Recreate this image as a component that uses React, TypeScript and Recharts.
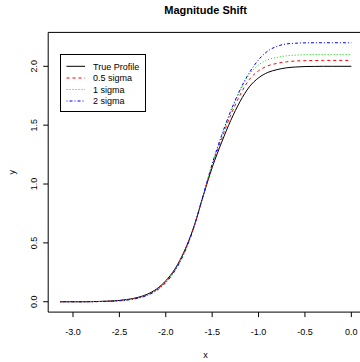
import {
	LineChart,
	Line,
	XAxis,
	YAxis,
	Legend,
	ReferenceArea,
	Customized,
} from "recharts";

// x positions (radians, -pi .. 0)
const xs = [
	-3.14, -3.0, -2.9, -2.8, -2.7, -2.6, -2.5, -2.4, -2.3, -2.2, -2.1, -2.0, -1.9,
	-1.8, -1.7, -1.6, -1.5, -1.4, -1.3, -1.2, -1.1, -1.0, -0.9, -0.8, -0.7, -0.6,
	-0.5, -0.4, -0.3, -0.2, -0.1, 0.0,
];

const trueProfile = [
	0, 0, 0, 0.001, 0.003, 0.006, 0.011, 0.021, 0.037, 0.064, 0.108, 0.178, 0.28,
	0.43, 0.63, 0.89, 1.14, 1.35, 1.54, 1.7, 1.825, 1.902, 1.948, 1.972, 1.987,
	1.994, 1.998, 1.999, 2.0, 2.0, 2.0, 2.0,
];
const halfSigma = [
	0, 0, 0, 0.001, 0.002, 0.005, 0.01, 0.019, 0.034, 0.06, 0.102, 0.171, 0.273,
	0.424, 0.627, 0.893, 1.155, 1.38, 1.585, 1.755, 1.887, 1.962, 2.004, 2.025,
	2.038, 2.045, 2.048, 2.049, 2.05, 2.05, 2.05, 2.05,
];
const oneSigma = [
	0, 0, 0, 0.001, 0.002, 0.005, 0.009, 0.018, 0.032, 0.057, 0.099, 0.167, 0.27,
	0.42, 0.626, 0.895, 1.165, 1.4, 1.61, 1.79, 1.93, 2.012, 2.056, 2.076, 2.089,
	2.095, 2.098, 2.1, 2.1, 2.1, 2.1, 2.1,
];
const twoSigma = [
	0, 0, 0, 0, 0.002, 0.004, 0.008, 0.016, 0.03, 0.054, 0.095, 0.163, 0.265,
	0.415, 0.625, 0.895, 1.17, 1.41, 1.62, 1.8, 1.945, 2.055, 2.13, 2.17, 2.19,
	2.196, 2.199, 2.2, 2.2, 2.2, 2.2, 2.2,
];

const seriesKeys = ["truth", "s05", "s1", "s2"];
const seriesNames = ["True Profile", "0.5 sigma", "1 sigma", "2 sigma"];
const seriesColors = ["#000000", "#ff0000", "#00dd00", "#0000ff"];
const seriesDashes = ["", "3 3", "1 2", "1 2 3 2"];

const xTicks = [-3.0, -2.5, -2.0, -1.5, -1.0, -0.5, 0.0];
const yTicks = [0.0, 0.5, 1.0, 1.5, 2.0];

const data = xs.map((x, i) => ({
	x,
	truth: trueProfile[i],
	s05: halfSigma[i],
	s1: oneSigma[i],
	s2: twoSigma[i],
}));

const X_MIN = -3.2673;
const X_MAX = 0.1257;
const Y_MIN = -0.088;
const Y_MAX = 2.288;

const FONT = "'Liberation Sans', Arial, sans-serif";

const XTick = (props: any) => {
	const { x, payload } = props;
	return (
		<text x={x} y={335} textAnchor="middle" fontSize={9} fontFamily={FONT} fill="#000">
			{payload.value.toFixed(1)}
		</text>
	);
};

const YTick = (props: any) => {
	const { y, payload } = props;
	const bx = 36.6;
	return (
		<text
			x={bx}
			y={y}
			transform={`rotate(-90, ${bx}, ${y})`}
			textAnchor="middle"
			fontSize={9}
			fontFamily={FONT}
			fill="#000"
		>
			{payload.value.toFixed(1)}
		</text>
	);
};

const LegendBox = () => {
	const rows = [12.3, 24, 35.5, 47];
	return (
		<svg width={86} height={58} style={{ display: "block" }}>
			<rect x={0.5} y={0.5} width={85} height={57} fill="#fff" stroke="#000" strokeWidth={1} />
			{seriesNames.map((name, i) => (
				<g key={name}>
					<line
						x1={6.5}
						x2={25}
						y1={rows[i]}
						y2={rows[i]}
						stroke={seriesColors[i]}
						strokeWidth={1}
						strokeDasharray={seriesDashes[i] || undefined}
					/>
					<text x={33} y={rows[i] + 3.2} fontSize={9} fontFamily={FONT} fill="#000">
						{name}
					</text>
				</g>
			))}
		</svg>
	);
};

const Labels = () => (
	<g fontFamily={FONT} fill="#000">
		<text x={205.6} y={14.3} textAnchor="middle" fontSize={11} fontWeight="bold">
			Magnitude Shift
		</text>
		<text x={205.6} y={357.5} textAnchor="middle" fontSize={9}>
			x
		</text>
		<text x={15} y={172.2} textAnchor="middle" fontSize={9} transform="rotate(-90, 15, 172.2)">
			y
		</text>
	</g>
);

export default function App() {
	return (
		<div
			style={{
				position: "absolute",
				left: 0,
				top: 0,
				width: 360,
				height: 362,
				overflow: "hidden",
				background: "#fff",
			}}
		>
			<LineChart
				width={366}
				height={362}
				data={data}
				margin={{ top: 32.4, right: 3, bottom: 0, left: 0 }}
			>
				<XAxis
					dataKey="x"
					type="number"
					domain={[X_MIN, X_MAX]}
					ticks={xTicks}
					interval={0}
					height={49.9}
					axisLine={false}
					tickSize={5}
					tickMargin={0}
					tickLine={{ stroke: "#000" }}
					tick={<XTick />}
					allowDataOverflow
				/>
				<YAxis
					type="number"
					domain={[Y_MIN, Y_MAX]}
					ticks={yTicks}
					interval={0}
					width={48.2}
					axisLine={false}
					tickSize={5}
					tickMargin={0}
					tickLine={{ stroke: "#000" }}
					tick={<YTick />}
					allowDataOverflow
				/>
				<ReferenceArea
					x1={X_MIN}
					x2={X_MAX}
					y1={Y_MIN}
					y2={Y_MAX}
					fill="none"
					fillOpacity={0}
					stroke="#000"
					strokeWidth={1}
				/>
				{seriesKeys.map((k, i) => (
					<Line
						key={k}
						type="monotone"
						dataKey={k}
						name={seriesNames[i]}
						stroke={seriesColors[i]}
						strokeWidth={1}
						strokeDasharray={seriesDashes[i] || undefined}
						dot={false}
						isAnimationActive={false}
					/>
				))}
				<Legend
					layout="vertical"
					align="center"
					verticalAlign="middle"
					content={<LegendBox />}
					wrapperStyle={{ left: 60, top: 54, width: 86, height: 58 }}
				/>
				<Customized component={Labels} />
			</LineChart>
		</div>
	);
}
